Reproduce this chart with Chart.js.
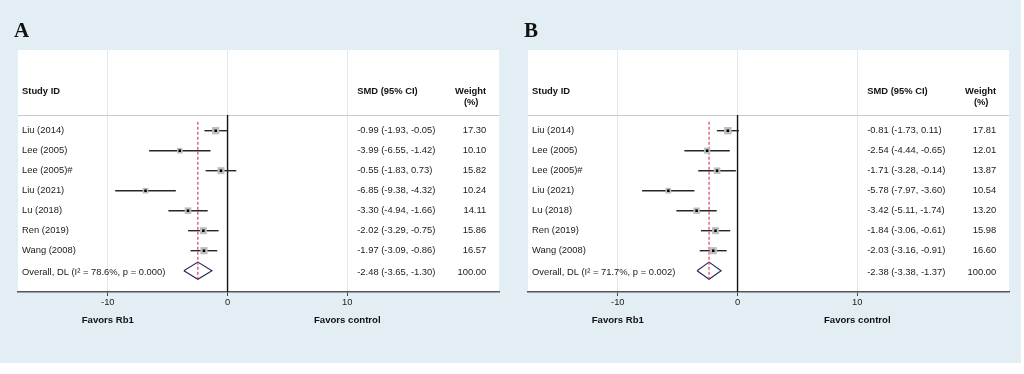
<!DOCTYPE html>
<html>
<head>
<meta charset="utf-8">
<script src="https://cdn.jsdelivr.net/npm/chart.js@4.4.0/dist/chart.umd.min.js"></script>
<style>
  html, body { margin: 0; padding: 0; background: #ffffff; }
  #bg { position: absolute; left: 0; top: 0; width: 1021px; height: 363px; background: #e3eef4; }
  canvas { position: absolute; top: 0; }
  #chartA { left: 0; }
  #chartB { left: 510px; }
</style>
</head>
<body>
<div id="bg"></div>
<canvas id="chartA" width="510" height="374"></canvas>
<canvas id="chartB" width="514" height="374"></canvas>
<script>
// studies (same for both panels)
var studies = ['Liu (2014)', 'Lee (2005)', 'Lee (2005)#', 'Liu (2021)', 'Lu (2018)', 'Ren (2019)', 'Wang (2008)'];
var xTicks = [-10, 0, 10];

// panel A
var smdA = [-0.99, -3.99, -0.55, -6.85, -3.30, -2.02, -1.97];
var lowA = [-1.93, -6.55, -1.83, -9.38, -4.94, -3.29, -3.09];
var highA = [-0.05, -1.42, 0.73, -4.32, -1.66, -0.75, -0.86];
var weightA = [17.30, 10.10, 15.82, 10.24, 14.11, 15.86, 16.57];
var overallA = [-2.48, -3.65, -1.30];
var i2A = '78.6%';
var pA = '0.000';

// panel B
var smdB = [-0.81, -2.54, -1.71, -5.78, -3.42, -1.84, -2.03];
var lowB = [-1.73, -4.44, -3.28, -7.97, -5.11, -3.06, -3.16];
var highB = [0.11, -0.65, -0.14, -3.60, -1.74, -0.61, -0.91];
var weightB = [17.81, 12.01, 13.87, 10.54, 13.20, 15.98, 16.60];
var overallB = [-2.38, -3.38, -1.37];
var i2B = '71.7%';
var pB = '0.002';

var Y_MIN = -3.035, Y_MAX = 9.065, HEAD_ROW = 0.215;
var SMD_X = 10.83, WEIGHT_X = 21.6;
var FONT = '"Liberation Sans", Arial, sans-serif';

function fmt(e, lo, hi) {
  return e.toFixed(2) + ' (' + lo.toFixed(2) + ', ' + hi.toFixed(2) + ')';
}

var forestText = {
  id: 'forestText',
  beforeDraw: function(chart) {
    var a = chart.chartArea, ctx = chart.ctx;
    ctx.save();
    ctx.fillStyle = '#ffffff';
    ctx.fillRect(a.left, a.top, a.right - a.left, a.bottom - a.top);
    ctx.restore();
  },
  beforeDatasetsDraw: function(chart) {
    var a = chart.chartArea, ctx = chart.ctx;
    var y = chart.scales.y.getPixelForValue(HEAD_ROW);
    ctx.save();
    ctx.strokeStyle = '#c9cccf';
    ctx.lineWidth = 1;
    ctx.beginPath();
    ctx.moveTo(a.left, Math.round(y) + 0.5);
    ctx.lineTo(a.right, Math.round(y) + 0.5);
    ctx.stroke();
    ctx.restore();
  },
  afterDraw: function(chart) {
    var o = chart.options.plugins.forestText;
    var ctx = chart.ctx, xs = chart.scales.x, ys = chart.scales.y, a = chart.chartArea;
    var sx = xs.getPixelForValue(SMD_X), wx = xs.getPixelForValue(WEIGHT_X);
    ctx.save();
    // panel letter
    ctx.fillStyle = '#111';
    ctx.font = 'bold 21px "Liberation Serif", "Times New Roman", serif';
    ctx.textAlign = 'left';
    ctx.textBaseline = 'alphabetic';
    ctx.fillText(o.letter, a.left - 4, 37);
    // headers
    ctx.fillStyle = '#111';
    ctx.font = 'bold 9.4px ' + FONT;
    ctx.textBaseline = 'middle';
    ctx.fillText('Study ID', a.left + 4, 91);
    ctx.fillText('SMD (95% CI)', sx, 91);
    ctx.textAlign = 'right';
    ctx.fillText('Weight', wx, 91);
    ctx.textAlign = 'center';
    ctx.fillText('(%)', wx - 15, 102);
    // rows
    ctx.font = '9.4px ' + FONT;
    ctx.fillStyle = '#1a1a1a';
    for (var i = 0; i < studies.length; i++) {
      var y = ys.getPixelForValue(i + 1);
      ctx.textAlign = 'left';
      ctx.fillText(studies[i], a.left + 4, y);
      ctx.fillText(fmt(o.smd[i], o.low[i], o.high[i]), sx, y);
      ctx.textAlign = 'right';
      ctx.fillText(o.weight[i].toFixed(2), wx, y);
    }
    var yo = ys.getPixelForValue(studies.length + 1) + 2;
    ctx.textAlign = 'left';
    ctx.fillText('Overall, DL (I\u00b2 = ' + o.i2 + ', p = ' + o.p + ')', a.left + 4, yo);
    ctx.fillText(fmt(o.overall[0], o.overall[1], o.overall[2]), sx, yo);
    ctx.textAlign = 'right';
    ctx.fillText('100.00', wx, yo);
    // axis captions
    ctx.font = 'bold 9.6px ' + FONT;
    ctx.fillStyle = '#111';
    ctx.textAlign = 'center';
    ctx.fillText('Favors Rb1', xs.getPixelForValue(-10), 320);
    ctx.fillText('Favors control', xs.getPixelForValue(10), 320);
    ctx.restore();
  }
};

function makeChart(id, letter, smd, low, high, weight, overall, i2, p) {
  var datasets = [];
  // whiskers
  for (var i = 0; i < smd.length; i++) {
    datasets.push({
      type: 'line', order: 4,
      data: [{x: low[i], y: i + 1}, {x: high[i], y: i + 1}],
      borderColor: '#262626', borderWidth: 1.4, pointRadius: 0
    });
  }
  // zero line
  datasets.push({
    type: 'line', order: 5,
    data: [{x: 0, y: HEAD_ROW}, {x: 0, y: Y_MAX}],
    borderColor: '#111', borderWidth: 1.4, pointRadius: 0
  });
  // weight squares
  datasets.push({
    type: 'scatter', order: 1,
    data: smd.map(function(v, i) { return {x: v, y: i + 1}; }),
    pointStyle: 'rect',
    pointRadius: weight.map(function(w) { return 1.25 * Math.sqrt(w); }),
    backgroundColor: '#bcbec0', borderWidth: 0
  });
  // center dots
  datasets.push({
    type: 'scatter', order: 0,
    data: smd.map(function(v, i) { return {x: v, y: i + 1}; }),
    pointStyle: 'rect', pointRadius: 1.8,
    backgroundColor: '#000', borderWidth: 0
  });
  // overall diamond
  var r = smd.length + 1;
  datasets.push({
    type: 'line', order: 3,
    data: [{x: overall[1], y: r}, {x: overall[0], y: r - 0.43}, {x: overall[2], y: r},
           {x: overall[0], y: r + 0.43}, {x: overall[1], y: r}],
    borderColor: '#1c2a55', borderWidth: 1.1, pointRadius: 0, fill: false, tension: 0
  });
  // pooled estimate line
  datasets.push({
    type: 'line', order: 2,
    data: [{x: overall[0], y: 0.55}, {x: overall[0], y: r + 0.43}],
    borderColor: '#d2334a', borderWidth: 1.1, borderDash: [3, 2], pointRadius: 0
  });

  return new Chart(document.getElementById(id), {
    type: 'scatter',
    data: { datasets: datasets },
    options: {
      responsive: false,
      animation: false,
      devicePixelRatio: 1,
      layout: { padding: { left: 18, right: id === 'chartA' ? 11 : 15, top: 50, bottom: 52 } },
      plugins: {
        legend: { display: false },
        tooltip: { enabled: false },
        forestText: { letter: letter, smd: smd, low: low, high: high, weight: weight,
                      overall: overall, i2: i2, p: p }
      },
      scales: {
        x: {
          type: 'linear', min: -17.5, max: 22.67,
          afterBuildTicks: function(s) { s.ticks = xTicks.map(function(v) { return {value: v}; }); },
          afterFit: function(s) { s.height = 30; },
          ticks: { color: '#222', font: { family: FONT, size: 9.4 }, padding: 1, maxRotation: 0 },
          grid: { color: '#dde9ef', lineWidth: 1, tickLength: 4, tickColor: '#444', drawTicks: true },
          border: { color: '#555', width: 1.5 }
        },
        y: { type: 'linear', display: false, reverse: true, min: Y_MIN, max: Y_MAX }
      }
    },
    plugins: [forestText]
  });
}

makeChart('chartA', 'A', smdA, lowA, highA, weightA, overallA, i2A, pA);
makeChart('chartB', 'B', smdB, lowB, highB, weightB, overallB, i2B, pB);
</script>
</body>
</html>
